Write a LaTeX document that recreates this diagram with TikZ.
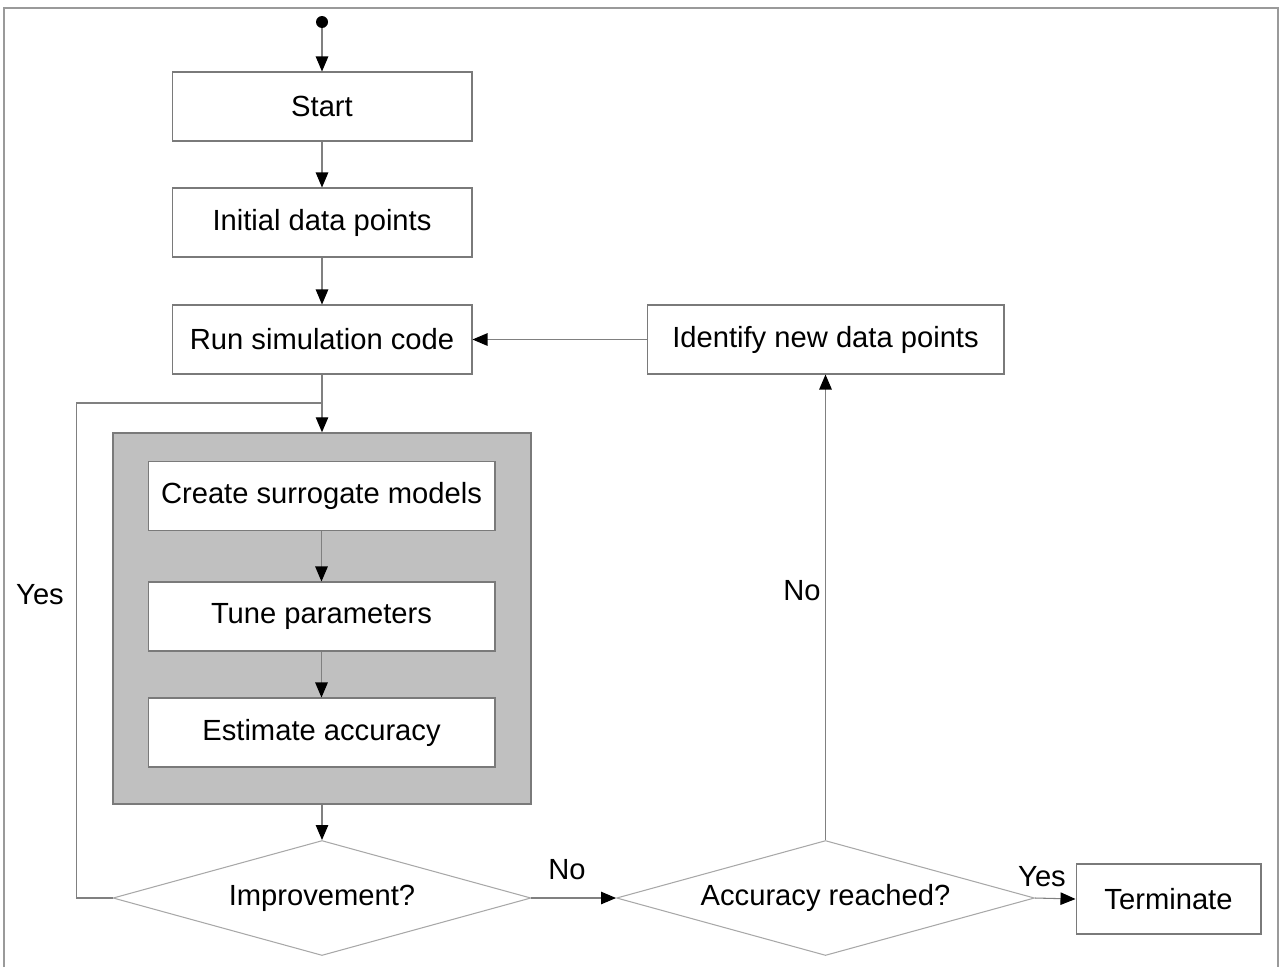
\documentclass[tikz,border=0pt]{standalone}
\usepackage{fontspec}
\setmainfont{Liberation Sans}
\usetikzlibrary{shapes.geometric, arrows.meta, positioning}

\definecolor{framegray}{HTML}{9A9A9A}
\definecolor{boxgray}{HTML}{7A7A7A}
\definecolor{linegray}{HTML}{808080}
\definecolor{diagray}{HTML}{A8A8A8}
\definecolor{groupfill}{HTML}{C0C0C0}

\tikzset{
  stepbox/.style={draw=boxgray, line width=0.6pt, fill=white, minimum height=1.38cm, inner sep=0pt},
  decision/.style={diamond, draw=diagray, line width=0.6pt, aspect=3.6, inner sep=0pt,
                   minimum width=8.36cm, minimum height=2.3cm},
  flow/.style={draw=linegray, line width=0.6pt, -{Triangle[length=3mm, width=2.5mm, black]}},
  plain/.style={draw=linegray, line width=0.6pt},
  lbl/.style={inner sep=0pt}
}

\begin{document}
\begin{tikzpicture}[x=0.02cm, y=-0.02cm, font=\fontsize{16.6}{20}\selectfont]
    \useasboundingbox (0,0) rectangle (1280,967);
    \draw[framegray, line width=1.1pt] (4,967) -- (4,8) -- (1278,8) -- (1278,967);

    % main column
    \node[circle, fill=black, inner sep=0pt, minimum size=0.24cm] (init) at (322,22) {};
    \node[stepbox, minimum width=6cm] (start) at (322,106.5) {Start};
    \node[stepbox, minimum width=6cm] (initial) at (322,222.5) {Initial data points};
    \node[stepbox, minimum width=6cm] (run) at (322,339.5) {Run simulation code};
    \node[stepbox, minimum width=7.14cm] (identify) at (825.5,339.5) {Identify new data points};

    % surrogate block
    \node[draw=boxgray, line width=0.9pt, fill=groupfill, minimum width=8.36cm, minimum height=7.42cm] (grp) at (322,618.5) {};
    \node[stepbox, minimum width=6.94cm] (create) at (321.5,496) {Create surrogate models};
    \node[stepbox, minimum width=6.94cm] (tune) at (321.5,616.5) {Tune parameters};
    \node[stepbox, minimum width=6.94cm] (estimate) at (321.5,732.5) {Estimate accuracy};

    % decisions
    \node[decision] (improve) at (322,898) {Improvement?};
    \node[decision] (accur) at (825.5,898) {Accuracy reached?};
    \node[stepbox, minimum width=3.7cm, minimum height=1.4cm] (term) at (1168.5,899) {Terminate};

    \coordinate (join) at (322,403);

    \draw[flow] (init) -- (start);
    \draw[flow] (start) -- (initial);
    \draw[flow] (initial) -- (run);
    \draw[flow] (run) -- (grp);
    \draw[flow] (create) -- (tune);
    \draw[flow] (tune) -- (estimate);
    \draw[flow] (grp) -- (improve);
    \draw[plain] (improve.west) -- ++(-36,0) |- (join);
    \draw[flow] (improve.east) -- (accur.west);
    \draw[flow] (accur.north) -- (identify.south);
    \draw[flow] (identify) -- (run);
    \draw[flow] (accur.east) -- (term.west);

    \node[lbl] (yesloop) at (40,595) {Yes};
    \node[lbl] (noimp) at (567,870) {No};
    \node[lbl] (noacc) at (802,591) {No};
    \node[lbl] (yesacc) at (1042,877) {Yes};
\end{tikzpicture}
\end{document}
